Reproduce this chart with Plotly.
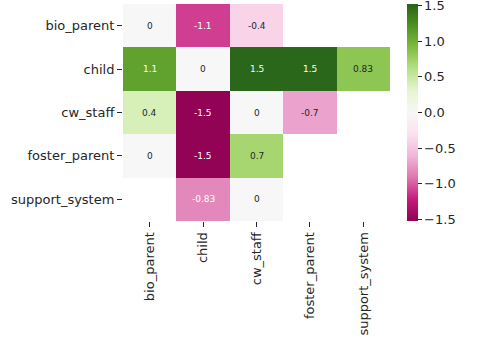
import plotly.graph_objects as go
import plotly.colors as pc

# roles (rows = source, columns = target)
rows = ['bio_parent', 'child', 'cw_staff', 'foster_parent', 'support_system']
cols = ['bio_parent', 'child', 'cw_staff', 'foster_parent', 'support_system']

values = [
    [0,    -1.1,  -0.4, None, None],
    [1.1,   0,     1.5,  1.5, 0.83],
    [0.4,  -1.5,   0,   -0.7, None],
    [0,    -1.5,   0.7, None, None],
    [None, -0.83,  0,   None, None],
]

cbar_ticks = [-1.5, -1.0, -0.5, 0.0, 0.5, 1.0, 1.5]
zmin, zmax = -1.52, 1.52

fig = go.Figure(go.Heatmap(
    z=values, x=cols, y=rows,
    colorscale='PiYG', zmin=zmin, zmax=zmax,
    hoverongaps=False,
    colorbar=dict(
        thickness=11, len=1, lenmode='fraction', y=0.5, yanchor='middle',
        x=1.0625, xanchor='left', xpad=0, ypad=0, outlinewidth=0,
        ticks='outside', ticklen=4, tickwidth=1, tickcolor='#262626',
        tickvals=cbar_ticks,
        ticktext=[f'{t:.1f}'.replace('-', '\u2212') for t in cbar_ticks],
        tickfont=dict(size=13, color='#262626'),
        ticklabeloverflow='allow',
    ),
))


def luminance(rgb):
    chans = []
    for c in rgb:
        c = c / 255
        chans.append(c / 12.92 if c <= 0.03928 else ((c + 0.055) / 1.055) ** 2.4)
    return 0.2126 * chans[0] + 0.7152 * chans[1] + 0.0722 * chans[2]


# cell labels, white on dark cells like seaborn annot
for i, r in enumerate(rows):
    for j, c in enumerate(cols):
        v = values[i][j]
        if v is None:
            continue
        col = pc.sample_colorscale('PiYG', [(v - zmin) / (zmax - zmin)])[0]
        rgb = pc.unlabel_rgb(col)
        txt_color = '#262626' if luminance(rgb) > 0.408 else 'white'
        fig.add_annotation(x=c, y=r, text=format(v, '.2g'), showarrow=False,
                           font=dict(size=9, color=txt_color))

axis_style = dict(ticks='outside', ticklen=5, tickwidth=1, tickcolor='#262626',
                  tickfont=dict(size=13, color='#262626'), showgrid=False,
                  zeroline=False, showline=False, automargin=False)

fig.update_xaxes(tickangle=-90, **axis_style)
fig.update_yaxes(autorange='reversed', **axis_style)

fig.update_layout(
    width=499, height=344,
    margin=dict(l=123, r=109, t=4, b=123, autoexpand=False),
    plot_bgcolor='white', paper_bgcolor='white',
    font=dict(family='DejaVu Sans', color='#262626'),
)

# drop the browser's default page margin so the figure sits at the corner
fig.write_html('out.html', config={'displayModeBar': False},
               post_script="document.body.style.margin='0';")
